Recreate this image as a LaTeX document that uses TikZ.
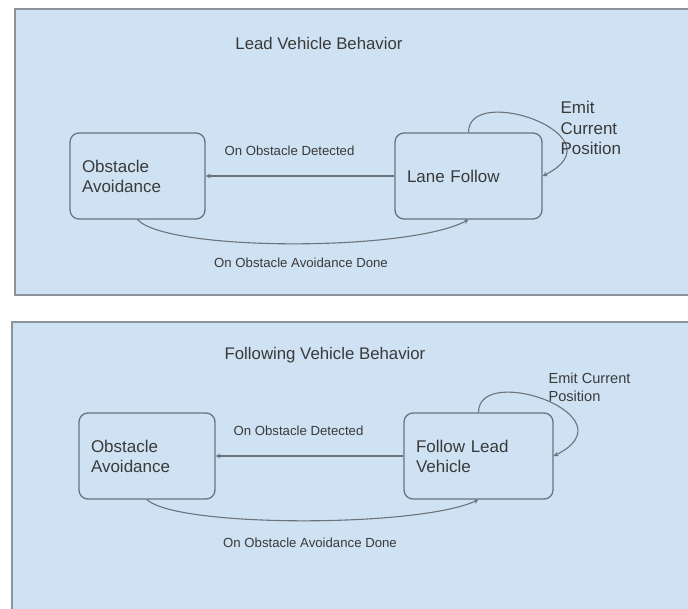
\documentclass[tikz,border=0pt]{standalone}
\usepackage{fontspec}
\setmainfont{Liberation Sans}
\usetikzlibrary{positioning}
\definecolor{panelblue}{HTML}{CFE2F3}
\definecolor{panelline}{HTML}{8C939B}
\definecolor{boxline}{HTML}{6B737C}
\definecolor{inkgray}{HTML}{3A3A3A}

\begin{document}
\begin{tikzpicture}[x=1pt,y=-1pt,>=stealth,
    panel/.style={fill=panelblue,draw=panelline,line width=2pt},
    statebox/.style={draw=boxline,line width=1.3pt,rounded corners=9pt,minimum height=86pt,
        inner xsep=12pt,align=left,text=inkgray,font=\fontsize{17}{20}\selectfont},
    trans/.style={->,draw=boxline,line width=1.1pt},
    lbl/.style={text=inkgray,font=\fontsize{13.2}{16}\selectfont},
    heading/.style={text=inkgray,font=\fontsize{16.8}{20}\selectfont}]
                \useasboundingbox (0,0) rectangle (688,608);
                \fill[white] (0,0) rectangle (688,608);

                \draw[panel] (15,9) rectangle (700,295);
                \draw[panel] (12,322) rectangle (700,620);

                \node[heading] (headA) at (319,43) {Lead Vehicle Behavior};
                \node[statebox,text width=111pt] (obsA) at (137.5,176) {Obstacle\\Avoidance};
                \node[statebox,text width=123pt] (lane) at (468.5,176) {Lane Follow};
                \draw[trans] (lane.west) -- (obsA.east);
                \draw[trans] (obsA.south) .. controls +(30,32) and +(-60,32) .. (lane.south);
                \draw[trans] (lane.north) .. controls +(0,-50) and +(80,-40) .. (lane.east);
                \node[lbl] (detA) at (289.5,151) {On Obstacle Detected};
                \node[lbl] (doneA) at (301,263) {On Obstacle Avoidance Done};
                \node[lbl,font=\fontsize{17}{20.5}\selectfont,align=left,anchor=west] (emitA) at (557,128) {Emit\\Current\\Position};

                \node[heading] (headB) at (325,355) {Following Vehicle Behavior};
                \node[statebox,text width=112pt] (obsB) at (147,456) {Obstacle\\Avoidance};
                \node[statebox,text width=125pt] (follow) at (478.5,456) {Follow Lead\\Vehicle};
                \draw[trans] (follow.west) -- (obsB.east);
                \draw[trans] (obsB.south) .. controls +(30,28) and +(-60,28) .. (follow.south);
                \draw[trans] (follow.north) .. controls +(0,-50) and +(80,-40) .. (follow.east);
                \node[lbl] (detB) at (298.5,431) {On Obstacle Detected};
                \node[lbl] (doneB) at (310,543) {On Obstacle Avoidance Done};
                \node[lbl,font=\fontsize{14.6}{18}\selectfont,align=left,anchor=west] (emitB) at (545,387) {Emit Current\\Position};
\end{tikzpicture}
\end{document}
